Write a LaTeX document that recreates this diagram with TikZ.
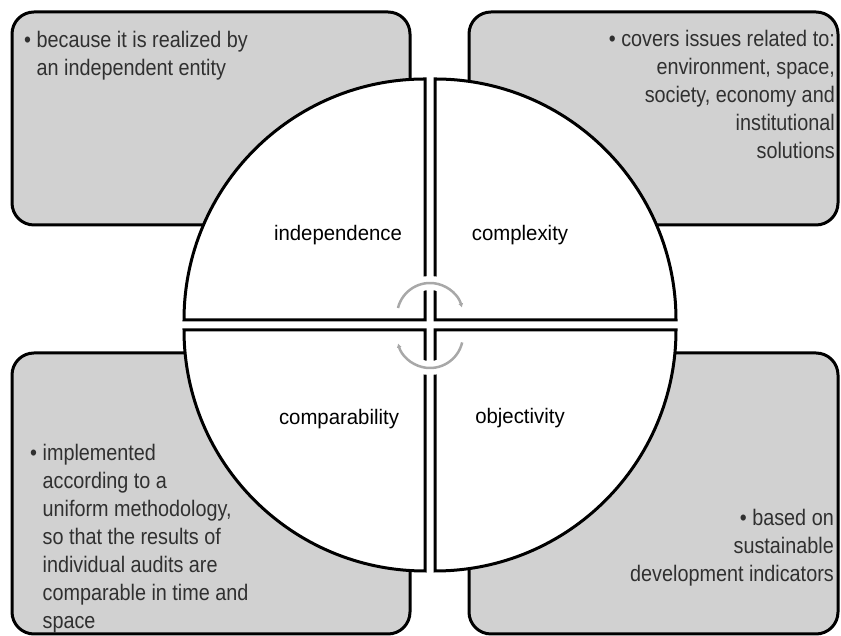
\documentclass[tikz,border=0pt]{standalone}
\usepackage{fontspec}
\setmainfont[FakeStretch=0.88]{Liberation Sans}
\newfontfamily\lblfont[FakeStretch=0.97]{Liberation Sans}
\usetikzlibrary{arrows.meta}
\definecolor{boxgray}{HTML}{D1D1D1}
\definecolor{notegray}{HTML}{303030}
\definecolor{cycgray}{HTML}{A8A8A8}
\tikzset{
  box/.style={draw=black,line width=3pt,fill=boxgray,rounded corners=22pt,inner sep=0pt},
  quad/.style={draw=black,line width=3pt,fill=white,line join=miter},
  note/.style={inner sep=0pt,text=notegray,font=\fontsize{22.5}{28}\selectfont},
  lbl/.style={inner sep=0pt,anchor=base,font=\lblfont\fontsize{21}{25}\selectfont},
  cyc/.style={draw=cycgray,line width=2.5pt,-{Latex[length=4pt,width=5pt]}},
}
\begin{document}
\begin{tikzpicture}[x=1pt,y=1pt]
\useasboundingbox (0,0) rectangle (841,636);
% boxes
\node[box,minimum width=398pt,minimum height=213pt] (tlbox) at (211,517.5) {};
\node[box,minimum width=369pt,minimum height=213pt] (trbox) at (653.5,517.5) {};
\node[box,minimum width=398pt,minimum height=281pt] (blbox) at (211,142.5) {};
\node[box,minimum width=369pt,minimum height=281pt] (brbox) at (653.5,142.5) {};
% box texts
\node[note,anchor=north west,align=left] (tlnote) at (24,604.5)
  {\textbullet~because it is realized by\\\hphantom{\textbullet~}an independent entity};
\node[note,anchor=north east,align=right] (trnote) at (835,606)
  {\textbullet~covers issues related to:\\environment, space,\\society, economy and\\institutional\\solutions};
\node[note,anchor=north west,align=left] (blnote) at (30,191.5)
  {\textbullet~implemented\\\hphantom{\textbullet~}according to a\\\hphantom{\textbullet~}uniform methodology,\\\hphantom{\textbullet~}so that the results of\\\hphantom{\textbullet~}individual audits are\\\hphantom{\textbullet~}comparable in time and\\\hphantom{\textbullet~}space};
\node[note,anchor=north east,align=right] (brnote) at (834,126.5)
  {\textbullet~based on\\sustainable\\development indicators};
% quarters of the circle
\coordinate (oi) at (425,316);
\coordinate (oc) at (435,316);
\coordinate (oa) at (425,306);
\coordinate (oo) at (435,306);
\draw[quad] (oi) -- ++(-241,0) arc[start angle=180,end angle=90,radius=241] -- cycle;
\draw[quad] (oc) -- ++(0,241) arc[start angle=90,end angle=0,radius=241] -- cycle;
\draw[quad] (oa) -- ++(0,-241) arc[start angle=270,end angle=180,radius=241] -- cycle;
\draw[quad] (oo) -- ++(241,0) arc[start angle=0,end angle=-90,radius=241] -- cycle;
\node[lbl] (indep) at (338,395) {independence};
\node[lbl] (compl) at (520,395) {complexity};
\node[lbl] (compa) at (339,211) {comparability};
\node[lbl] (objec) at (520,212) {objectivity};
% cycle arrows
\coordinate (ctop) at (430,320);
\coordinate (cbot) at (430,301);
\draw[white,line width=14pt] ([shift={(70:33)}]ctop) arc[start angle=70,end angle=110,radius=33];
\draw[white,line width=14pt] ([shift={(-70:33)}]cbot) arc[start angle=-70,end angle=-110,radius=33];
\draw[cyc] ([shift={(166:33)}]ctop) arc[start angle=166,end angle=15,radius=33];
\draw[cyc] ([shift={(-13:33)}]cbot) arc[start angle=-13,end angle=-165,radius=33];
\end{tikzpicture}
\end{document}
